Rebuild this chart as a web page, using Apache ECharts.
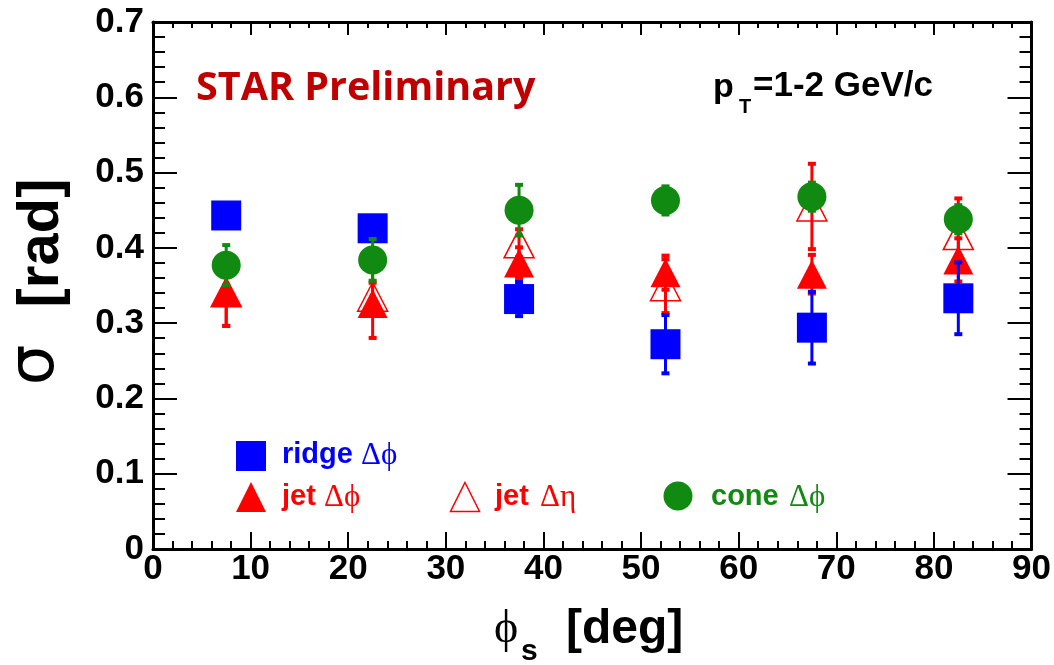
<!DOCTYPE html>
<html>
<head>
<meta charset="utf-8">
<title>Width of correlation structures vs trigger azimuth</title>
<script src="https://cdn.jsdelivr.net/npm/echarts@6/dist/echarts.min.js"></script>
<style>
  html, body { margin: 0; padding: 0; background: #fff; }
  #chart { width: 1054px; height: 665px; }
</style>
</head>
<body>
<div id="chart"></div>
<script>
// Trigger azimuth relative to event plane (bin centres), degrees
const phiS = [7.5, 22.5, 37.5, 52.5, 67.5, 82.5];

// Gaussian widths (rad) and their uncertainties
const ridgeSigma  = [0.443, 0.426, 0.332, 0.272, 0.294, 0.333];
const ridgeErr    = [0.015, 0.015, 0.024, 0.040, 0.049, 0.049];
const jetPhiSigma = [0.341, 0.326, 0.380, 0.367, 0.365, 0.384];
const jetPhiErr   = [0.046, 0.047, 0.022, 0.024, 0.027, 0.030];
const jetEtaSigma = [0.341, 0.335, 0.406, 0.349, 0.455, 0.417];
const jetEtaErr   = [0.046, 0.020, 0.020, 0.037, 0.058, 0.050];
const coneSigma   = [0.377, 0.384, 0.450, 0.463, 0.468, 0.438];
const coneErr     = [0.028, 0.029, 0.035, 0.020, 0.020, 0.020];

const xTicks = [0, 10, 20, 30, 40, 50, 60, 70, 80, 90];
const yTickLabels = ['0', '0.1', '0.2', '0.3', '0.4', '0.5', '0.6', '0.7'];

const BLUE = '#0000ff';
const RED = '#ff0000';
const GREEN = '#118a11';
const SANS = '"Liberation Sans", Arial, Helvetica, sans-serif';
const SERIF = '"Liberation Serif", "Times New Roman", serif';

function points(ys) { return phiS.map((x, i) => [x, ys[i]]); }
function errPoints(ys, es) { return phiS.map((x, i) => [x, ys[i], es[i]]); }

// Vertical error bar with small end caps
function errorBar(color) {
  return function (params, api) {
    const x = api.value(0), y = api.value(1), e = api.value(2);
    const top = api.coord([x, y + e]);
    const bot = api.coord([x, y - e]);
    return {
      type: 'group',
      children: [
        { type: 'line', shape: { x1: top[0], y1: top[1], x2: bot[0], y2: bot[1] },
          style: { stroke: color, lineWidth: 3 } },
        { type: 'rect', shape: { x: top[0] - 4, y: top[1] - 1, width: 8, height: 4 },
          style: { fill: color } },
        { type: 'rect', shape: { x: bot[0] - 4, y: bot[1] - 3, width: 8, height: 4 },
          style: { fill: color } }
      ]
    };
  };
}

function errSeries(ys, es, color, z) {
  return {
    type: 'custom', xAxisIndex: 0, yAxisIndex: 0, z: z, silent: true,
    renderItem: errorBar(color),
    encode: { x: 0, y: 1 },
    data: errPoints(ys, es)
  };
}

const tickStyle = { color: '#000', width: 2 };
const axisLineStyle = { color: '#000', width: 3 };

const chart = echarts.init(document.getElementById('chart'), null, { renderer: 'canvas' });

chart.setOption({
  animation: false,
  backgroundColor: '#fff',
  grid: { left: 153, right: 22, top: 22, bottom: 116 },
  xAxis: [
    {
      type: 'value', position: 'bottom', min: 0, max: 90, interval: 10,
      axisLine: { show: true, onZero: false, lineStyle: axisLineStyle },
      axisTick: { show: true, inside: true, length: 17, lineStyle: tickStyle },
      minorTick: { show: true, splitNumber: 5, length: 8, lineStyle: tickStyle },
      splitLine: { show: false },
      axisLabel: {
        show: true, margin: 3, showMinLabel: true, showMaxLabel: true,
        fontFamily: SANS, fontWeight: 'bold', fontSize: 35, color: '#000',
        formatter: v => String(xTicks[Math.round(v / 10)])
      }
    },
    {
      type: 'value', position: 'top', min: 0, max: 90, interval: 10,
      axisLine: { show: true, onZero: false, lineStyle: axisLineStyle },
      axisTick: { show: true, inside: true, length: 13, lineStyle: tickStyle },
      minorTick: { show: true, splitNumber: 5, length: 6, lineStyle: tickStyle },
      splitLine: { show: false },
      axisLabel: { show: false }
    }
  ],
  yAxis: [
    {
      type: 'value', position: 'left', min: 0, max: 0.7, interval: 0.1,
      axisLine: { show: true, onZero: false, lineStyle: axisLineStyle },
      axisTick: { show: true, inside: true, length: 24, lineStyle: tickStyle },
      minorTick: { show: true, splitNumber: 5, length: 12, lineStyle: tickStyle },
      splitLine: { show: false },
      axisLabel: {
        show: true, margin: 9, showMinLabel: true, showMaxLabel: true,
        fontFamily: SANS, fontWeight: 'bold', fontSize: 35, color: '#000',
        formatter: v => yTickLabels[Math.round(v * 10)]
      }
    },
    {
      type: 'value', position: 'right', min: 0, max: 0.7, interval: 0.1,
      axisLine: { show: true, onZero: false, lineStyle: axisLineStyle },
      axisTick: { show: true, inside: true, length: 24, lineStyle: tickStyle },
      minorTick: { show: true, splitNumber: 5, length: 12, lineStyle: tickStyle },
      splitLine: { show: false },
      axisLabel: { show: false }
    }
  ],
  series: [
    errSeries(jetPhiSigma, jetPhiErr, RED, 10),
    {
      name: 'jet Δϕ', type: 'scatter', z: 11, silent: true,
      symbol: 'triangle', symbolSize: [30, 29],
      itemStyle: { color: RED, opacity: 1 },
      data: points(jetPhiSigma)
    },
    errSeries(jetEtaSigma, jetEtaErr, RED, 12),
    {
      name: 'jet Δη', type: 'scatter', z: 13, silent: true,
      symbol: 'triangle', symbolSize: [30, 29],
      itemStyle: { color: 'rgba(0,0,0,0)', borderColor: RED, borderWidth: 1.5, opacity: 1 },
      data: points(jetEtaSigma)
    },
    errSeries(ridgeSigma, ridgeErr, BLUE, 14),
    {
      name: 'ridge Δϕ', type: 'scatter', z: 15, silent: true,
      symbol: 'rect', symbolSize: [30, 30],
      itemStyle: { color: BLUE, opacity: 1 },
      data: points(ridgeSigma)
    },
    errSeries(coneSigma, coneErr, GREEN, 16),
    {
      name: 'cone Δϕ', type: 'scatter', z: 17, silent: true,
      symbol: 'circle', symbolSize: 29,
      itemStyle: { color: GREEN, opacity: 1 },
      data: points(coneSigma)
    }
  ],
  graphic: [
    // annotation texts
    { type: 'text', x: 196, y: 89, z: 50,
      style: { text: 'STAR Preliminary', fill: '#c00000',
        font: 'bold 39.5px "Open Sans", "Noto Sans", sans-serif', verticalAlign: 'middle' } },
    { type: 'text', x: 713, y: 88, z: 50,
      style: { text: 'p', fill: '#000', font: 'bold 34px ' + SANS, verticalAlign: 'middle' } },
    { type: 'text', x: 739, y: 107, z: 50,
      style: { text: 'T', fill: '#000', font: 'bold 20px ' + SANS, verticalAlign: 'middle' } },
    { type: 'text', x: 753, y: 86, z: 50,
      style: { text: '=1-2 GeV/c', fill: '#000', font: 'bold 35px ' + SANS, verticalAlign: 'middle' } },

    // legend
    { type: 'rect', z: 50, shape: { x: 236, y: 441, width: 30, height: 30 }, style: { fill: BLUE } },
    { type: 'text', x: 282, y: 455, z: 50,
      style: { text: 'ridge', fill: BLUE, font: 'bold 29px ' + SANS, verticalAlign: 'middle' } },
    { type: 'text', x: 361, y: 456, z: 50,
      style: { text: 'Δϕ', fill: BLUE, font: '31px ' + SERIF, verticalAlign: 'middle' } },

    { type: 'polygon', z: 50, shape: { points: [[251, 482], [266, 512], [236, 512]] }, style: { fill: RED } },
    { type: 'text', x: 282, y: 497, z: 50,
      style: { text: 'jet', fill: RED, font: 'bold 29px ' + SANS, verticalAlign: 'middle' } },
    { type: 'text', x: 324, y: 498, z: 50,
      style: { text: 'Δϕ', fill: RED, font: '31px ' + SERIF, verticalAlign: 'middle' } },

    { type: 'polygon', z: 50, shape: { points: [[465, 482.5], [479.5, 511.5], [450.5, 511.5]] },
      style: { fill: 'none', stroke: RED, lineWidth: 1.5 } },
    { type: 'text', x: 495, y: 497, z: 50,
      style: { text: 'jet', fill: RED, font: 'bold 29px ' + SANS, verticalAlign: 'middle' } },
    { type: 'text', x: 540, y: 498, z: 50,
      style: { text: 'Δη', fill: RED, font: '31px ' + SERIF, verticalAlign: 'middle' } },

    { type: 'circle', z: 50, shape: { cx: 678, cy: 496, r: 14.5 }, style: { fill: GREEN } },
    { type: 'text', x: 711, y: 497, z: 50,
      style: { text: 'cone', fill: GREEN, font: 'bold 29px ' + SANS, verticalAlign: 'middle' } },
    { type: 'text', x: 789, y: 498, z: 50,
      style: { text: 'Δϕ', fill: GREEN, font: '31px ' + SERIF, verticalAlign: 'middle' } },

    // x-axis title: ϕ_s [deg]
    { type: 'text', x: 494, y: 630, z: 50,
      style: { text: 'ϕ', fill: '#000', font: '46px ' + SERIF, verticalAlign: 'middle' } },
    { type: 'text', x: 521, y: 652, z: 50,
      style: { text: 's', fill: '#000', font: 'bold 30px ' + SANS, verticalAlign: 'middle' } },
    { type: 'text', x: 566, y: 630, z: 50,
      style: { text: '[deg]', fill: '#000', font: 'bold 48px ' + SANS, verticalAlign: 'middle' } },

    // y-axis title: σ [rad], reading bottom to top
    { type: 'text', x: 42, y: 243, rotation: Math.PI / 2, z: 50,
      style: { text: '[rad]', fill: '#000', font: 'bold 58px ' + SANS, align: 'center', verticalAlign: 'middle' } },
    { type: 'text', x: 36, y: 365, rotation: Math.PI / 2, z: 50,
      style: { text: 'σ', fill: '#000', font: '64px "DejaVu Sans", sans-serif', align: 'center', verticalAlign: 'middle' } }
  ]
});
</script>
</body>
</html>
